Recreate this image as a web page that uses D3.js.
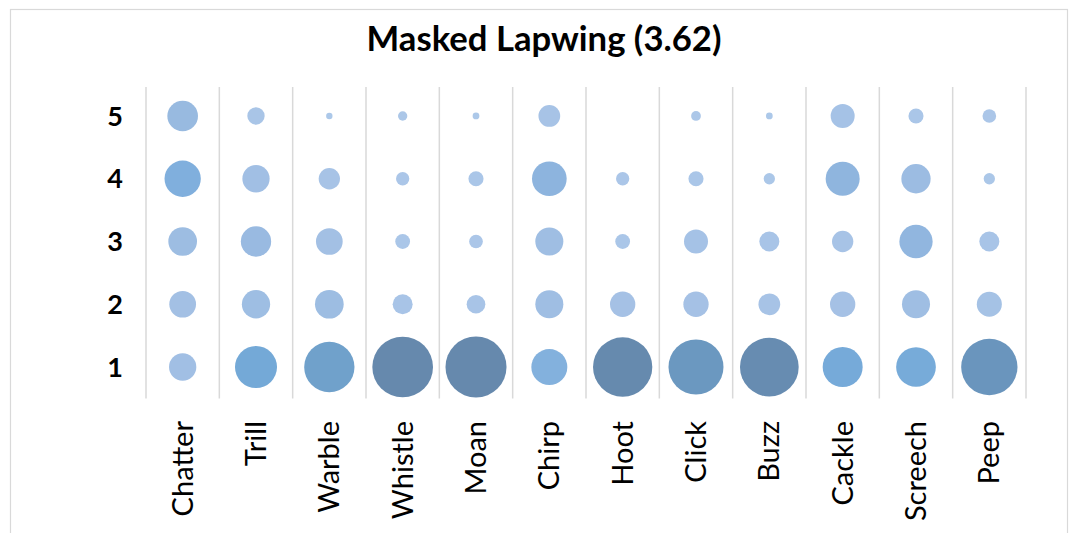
<!DOCTYPE html>
<html>
<head>
<meta charset="utf-8">
<script src="https://cdn.jsdelivr.net/npm/d3@7"></script>
<style>
  html, body { margin: 0; padding: 0; background: #ffffff; }
  svg { display: block; }
  text { font-family: Lato, "Open Sans", sans-serif; fill: #000; }
</style>
</head>
<body>
<svg id="chart" width="1071" height="533"></svg>
<script>
// ---- data ----
const title = "Masked Lapwing (3.62)";
const categories = ["Chatter","Trill","Warble","Whistle","Moan","Chirp","Hoot","Click","Buzz","Cackle","Screech","Peep"];
const levels = ["5","4","3","2","1"];
// share (%) of responses at each level, per category
const level5 = [20.7, 6.6, 0.9, 1.9, 1.0, 10.4, 0.0, 2.1, 1.0, 12.7, 5.0, 4.1];
const level4 = [29.0, 16.4, 10.0, 3.9, 5.0, 26.5, 3.9, 5.0, 2.8, 25.5, 18.9, 2.8];
const level3 = [18.1, 20.2, 15.7, 4.8, 4.1, 17.3, 4.8, 12.7, 8.8, 10.0, 24.4, 8.8];
const level2 = [15.7, 17.6, 18.1, 8.8, 7.7, 17.3, 14.1, 14.1, 10.4, 14.1, 17.3, 13.8];
const level1 = [16.4, 38.9, 55.7, 81.1, 82.0, 28.5, 77.4, 66.6, 75.9, 35.2, 34.7, 69.8];

const seriesByLevel = { "5": level5, "4": level4, "3": level3, "2": level2, "1": level1 };
const cells = [];
levels.forEach(l => categories.forEach((c, i) => cells.push({ level: l, cat: c, value: seriesByLevel[l][i] })));

// ---- layout ----
const svg = d3.select("#chart");
const plot = { left: 146, right: 1026, top: 84.6, bottom: 398.4 };

svg.append("rect")
  .attr("x", 10.5).attr("y", 9.5)
  .attr("width", 1057).attr("height", 540)
  .attr("fill", "#fff").attr("stroke", "#d9d9d9").attr("stroke-width", 1.2);

const x = d3.scaleBand().domain(categories).range([plot.left, plot.right]);
const y = d3.scaleBand().domain(levels).range([plot.top, plot.bottom]);
const r = d3.scaleSqrt().domain([0, 100]).range([0, 33.7]);
const color = d3.scaleLinear()
  .domain([0, 15, 22, 27, 30, 40, 56, 70, 78])
  .range(["#adc8e9", "#a4c1e5", "#95b8df", "#8cb4de", "#7aaddc", "#73a8d6", "#70a1cb", "#6a95bd", "#6689ad"])
  .clamp(true);

// vertical separators
const seps = categories.map(c => x(c)).concat([plot.right]);
svg.append("g").selectAll("line").data(seps).join("line")
  .attr("x1", d => d).attr("x2", d => d)
  .attr("y1", 87).attr("y2", plot.bottom)
  .attr("stroke", "#d9d9d9").attr("stroke-width", 1.5);

// bubbles
svg.append("g").selectAll("circle").data(cells.filter(d => d.value > 0)).join("circle")
  .attr("cx", d => x(d.cat) + x.bandwidth() / 2)
  .attr("cy", d => y(d.level) + y.bandwidth() / 2)
  .attr("r", d => r(d.value))
  .attr("fill", d => color(d.value));

// y axis labels
const yAxis = d3.axisLeft(y).tickSize(0).tickPadding(0);
const yg = svg.append("g").attr("transform", `translate(123,0)`).call(yAxis);
yg.select(".domain").remove();
yg.selectAll("text")
  .attr("font-family", "Lato, sans-serif")
  .attr("font-size", 27).attr("font-weight", 700).attr("fill", "#000")
  .attr("x", 0).attr("dy", "0.36em");

// x axis labels (rotated)
const xAxis = d3.axisBottom(x).tickSize(0).tickPadding(0);
const xg = svg.append("g").call(xAxis);
xg.select(".domain").remove();
xg.selectAll(".tick").attr("transform", d => `translate(${x(d) + x.bandwidth() / 2},421)`);
xg.selectAll("text")
  .attr("font-family", "Lato, sans-serif")
  .attr("font-size", 29).attr("font-weight", 400).attr("fill", "#000")
  .attr("transform", "rotate(-90)")
  .attr("text-anchor", "end")
  .attr("x", 0).attr("y", 0).attr("dy", "0.35em");

// title (narrowed to Calibri-like proportions)
const tg = svg.append("g");
const t = tg.append("text")
  .attr("x", 0).attr("y", 0)
  .attr("text-anchor", "middle")
  .attr("font-size", 34).attr("font-weight", 700)
  .text(title);
const w = t.node().getComputedTextLength();
tg.attr("transform", `translate(544,51) scale(${355 / w},1)`);
</script>
</body>
</html>
